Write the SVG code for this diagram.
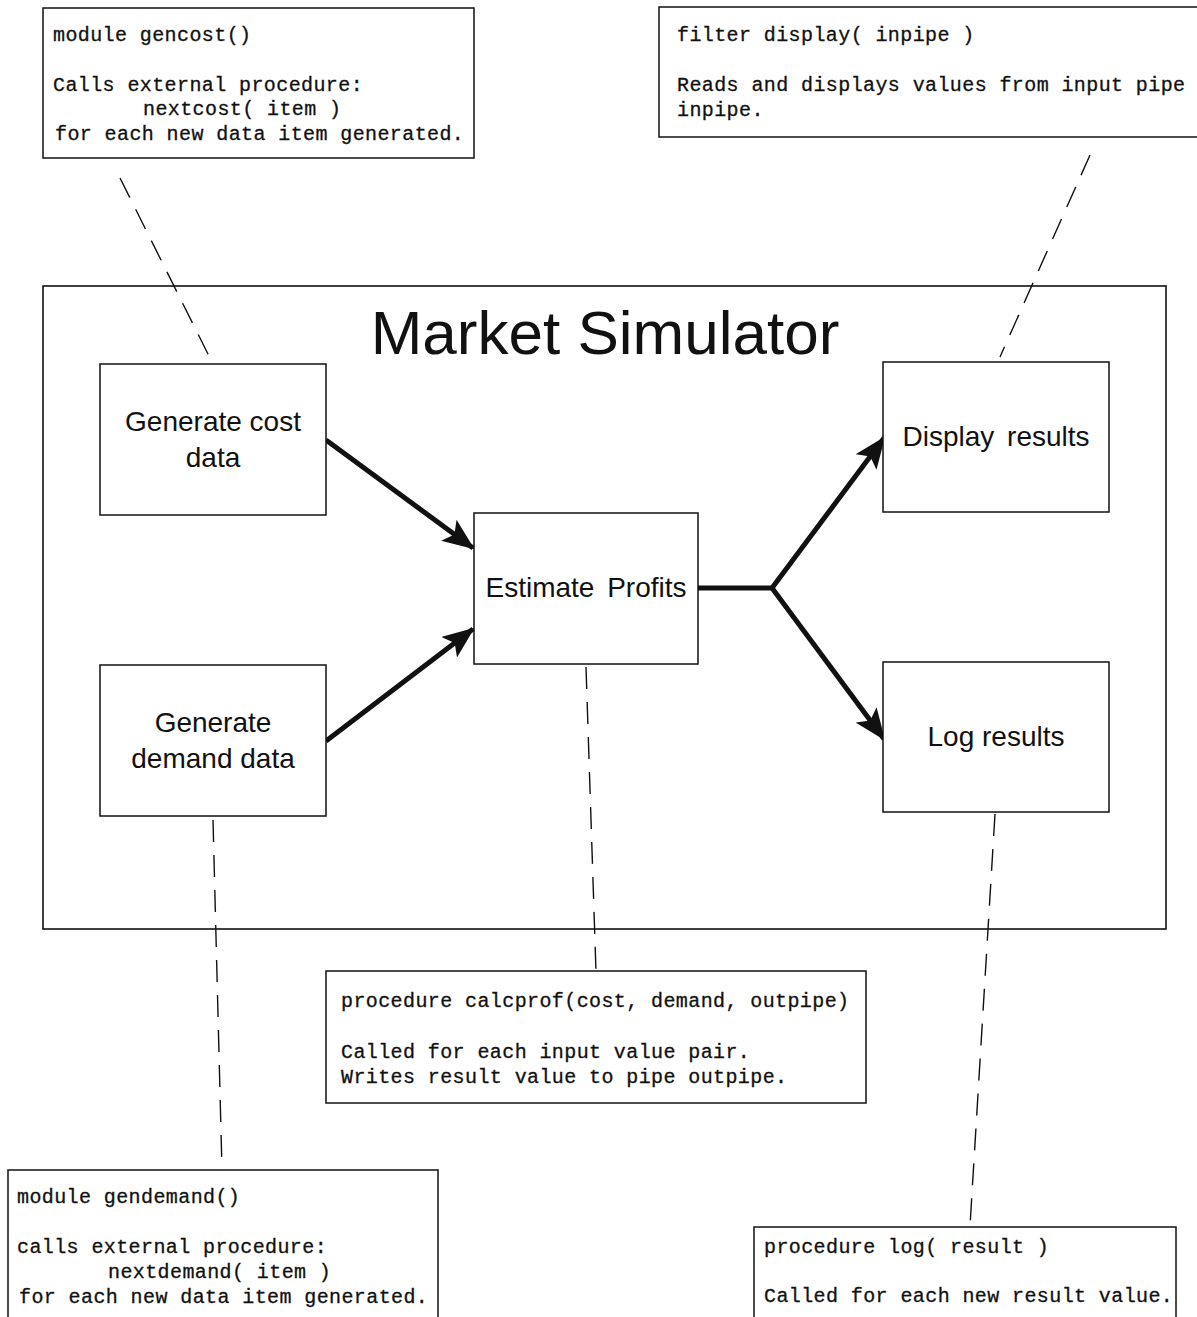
<svg xmlns="http://www.w3.org/2000/svg" width="1197" height="1317" viewBox="0 0 1197 1317">
  <style>
    .box { fill: #fff; stroke: #111; stroke-width: 1.5; }
    .frame { fill: none; stroke: #111; stroke-width: 1.6; }
    .note { fill: #fff; stroke: #111; stroke-width: 1.5; }
    .code { font-family: "Liberation Mono", "DejaVu Sans Mono", monospace; font-size: 20px; letter-spacing: 0.4px; fill: #111; stroke: #111; stroke-width: 0.3; }
    .label { font-family: "Liberation Sans", Arial, sans-serif; font-size: 28px; fill: #111; text-anchor: middle; }
    .wide { word-spacing: 5px; }
    .title { font-family: "Liberation Sans", Arial, sans-serif; font-size: 62px; fill: #111; text-anchor: middle; }
    .flow { fill: none; stroke: #111; stroke-width: 5; stroke-linejoin: miter; }
    .link { fill: none; stroke: #111; stroke-width: 1.4; stroke-dasharray: 22 13; }
  </style>
  <defs>
    <marker id="head" viewBox="0 0 32 26" refX="30" refY="13" markerWidth="32" markerHeight="26" markerUnits="userSpaceOnUse" orient="auto">
      <path d="M0,0 L32,13 L0,26 L7,13 Z" fill="#111"/>
    </marker>
  </defs>

  <!-- system boundary -->
  <g id="market-simulator">
    <rect class="frame" x="43" y="286" width="1123" height="643"/>
    <text class="title" x="605" y="354">Market Simulator</text>
  </g>

  <!-- dashed annotation links and data-flow arrows -->
  <g id="connectors">
    <line class="link" x1="120" y1="178" x2="212" y2="362"/>
    <line class="link" x1="1090" y1="155" x2="1000" y2="357"/>
    <line class="link" x1="586" y1="667" x2="596" y2="972"/>
    <line class="link" x1="213" y1="820" x2="222" y2="1170"/>
    <line class="link" x1="995" y1="814" x2="970" y2="1226"/>

    <line class="flow" x1="326" y1="440" x2="473" y2="548" marker-end="url(#head)"/>
    <line class="flow" x1="326" y1="741" x2="473" y2="629" marker-end="url(#head)"/>
    <polyline class="flow" points="698,588 772,588"/>
    <line class="flow" x1="772" y1="588" x2="884" y2="438" marker-end="url(#head)"/>
    <line class="flow" x1="772" y1="588" x2="884" y2="739" marker-end="url(#head)"/>
  </g>

  <!-- process nodes -->
  <g id="gen-cost">
    <rect class="box" x="100" y="364" width="226" height="151"/>
    <text class="label" x="213" y="431">Generate cost</text>
    <text class="label" x="213" y="467">data</text>
  </g>
  <g id="gen-demand">
    <rect class="box" x="100" y="665" width="226" height="151"/>
    <text class="label" x="213" y="732">Generate</text>
    <text class="label" x="213" y="768">demand data</text>
  </g>
  <g id="estimate-profits">
    <rect class="box" x="474" y="513" width="224" height="151"/>
    <text class="label wide" x="586" y="597">Estimate Profits</text>
  </g>
  <g id="display-results">
    <rect class="box" x="883" y="362" width="226" height="150"/>
    <text class="label wide" x="996" y="446">Display results</text>
  </g>
  <g id="log-results">
    <rect class="box" x="883" y="662" width="226" height="150"/>
    <text class="label" x="996" y="746">Log results</text>
  </g>

  <!-- code annotations -->
  <g id="note-gencost">
    <rect class="note" x="43" y="8" width="431" height="150"/>
    <text class="code" x="53" y="41">module gencost()</text>
    <text class="code" x="53" y="91">Calls external procedure:</text>
    <text class="code" x="143" y="115">nextcost( item )</text>
    <text class="code" x="55" y="140">for each new data item generated.</text>
  </g>
  <g id="note-display">
    <rect class="note" x="659" y="7" width="560" height="130"/>
    <text class="code" x="677" y="41">filter display( inpipe )</text>
    <text class="code" x="677" y="91">Reads and displays values from input pipe</text>
    <text class="code" x="677" y="116">inpipe.</text>
  </g>
  <g id="note-calcprof">
    <rect class="note" x="326" y="971" width="540" height="132"/>
    <text class="code" x="341" y="1007">procedure calcprof(cost, demand, outpipe)</text>
    <text class="code" x="341" y="1058">Called for each input value pair.</text>
    <text class="code" x="341" y="1083">Writes result value to pipe outpipe.</text>
  </g>
  <g id="note-gendemand">
    <rect class="note" x="8" y="1170" width="430" height="170"/>
    <text class="code" x="17" y="1203">module gendemand()</text>
    <text class="code" x="17" y="1253">calls external procedure:</text>
    <text class="code" x="108" y="1278">nextdemand( item )</text>
    <text class="code" x="19" y="1303">for each new data item generated.</text>
  </g>
  <g id="note-log">
    <rect class="note" x="754" y="1227" width="422" height="120"/>
    <text class="code" x="764" y="1253">procedure log( result )</text>
    <text class="code" x="764" y="1302">Called for each new result value.</text>
  </g>
</svg>
